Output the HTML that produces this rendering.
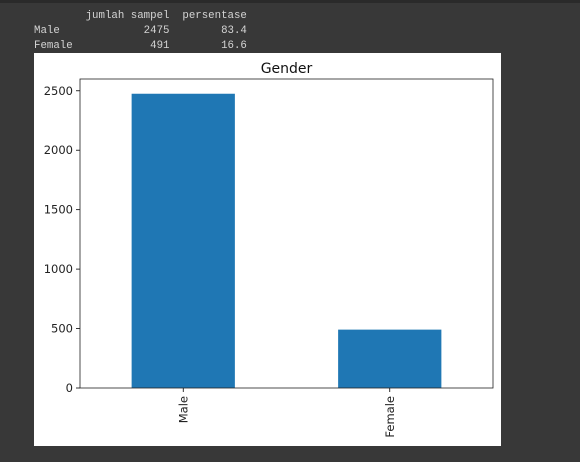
<!DOCTYPE html>
<html><head><meta charset="utf-8"><style>
body{margin:0;width:580px;height:462px;background:#383838;position:relative;overflow:hidden;font-family:"DejaVu Sans","Liberation Sans",sans-serif}
#topbar{position:absolute;left:0;top:0;width:580px;height:3px;background:#2a2a2a}
pre{position:absolute;left:34px;top:9px;margin:0;font-family:"Liberation Mono",monospace;font-size:10.75px;line-height:15px;color:#d4d4d4}
#fig{position:absolute;left:34px;top:53px;width:467px;height:393px;background:#fff}
</style></head><body>
<div id="topbar"></div>
<pre>        jumlah sampel  persentase
Male             2475        83.4
Female            491        16.6</pre>
<div id="fig">
<svg id="svg" width="467" height="393"></svg>
</div>
<script>
const categories=["Male","Female"];
const values=[2475,491];
const yTicks=[0,500,1000,1500,2000,2500];
const yMax=2599;
const ox=34,oy=53;
const L=80-ox,R=493-ox,T=79-oy,B=388-oy;
const svg=document.getElementById('svg');
const NS="http://www.w3.org/2000/svg";
function y(v){return B-(v/yMax)*(B-T);}
function x(i){return L+(i+0.5)/categories.length*(R-L);}
const bw=(R-L)/categories.length*0.5;
function mk(t,a){const e=document.createElementNS(NS,t);for(const k in a)e.setAttribute(k,a[k]);svg.appendChild(e);return e;}
values.forEach((v,i)=>{
 const r=mk('rect',{x:x(i)-bw/2,y:y(v),width:bw,height:B-y(v),fill:'#1f77b4'});
 
 
 const tk=mk('line',{x1:x(i),x2:x(i),y1:B,y2:B+4,stroke:'#000','stroke-width':0.8});
 
 
 const t=mk('text',{x:0,y:0,'font-size':11.5,fill:'#222','text-anchor':'end',transform:`translate(${x(i)+4},${B+8}) rotate(-90)`});
 t.textContent=categories[i];
 
 
});
yTicks.forEach(v=>{
 const tk=mk('line',{x1:L-4,x2:L,y1:y(v),y2:y(v),stroke:'#000','stroke-width':0.8});
 
 
 const t=mk('text',{x:L-7,y:y(v)+4,'font-size':11.5,fill:'#222','text-anchor':'end'});
 t.textContent=v;
 
 
});
const fr=mk('rect',{x:L,y:T,width:R-L,height:B-T,fill:'none',stroke:'#222','stroke-width':0.8});


const ti=mk('text',{x:(L+R)/2,y:T-6,'font-size':14,fill:'#111','text-anchor':'middle'});
ti.textContent='Gender';


</script>
</body></html>
